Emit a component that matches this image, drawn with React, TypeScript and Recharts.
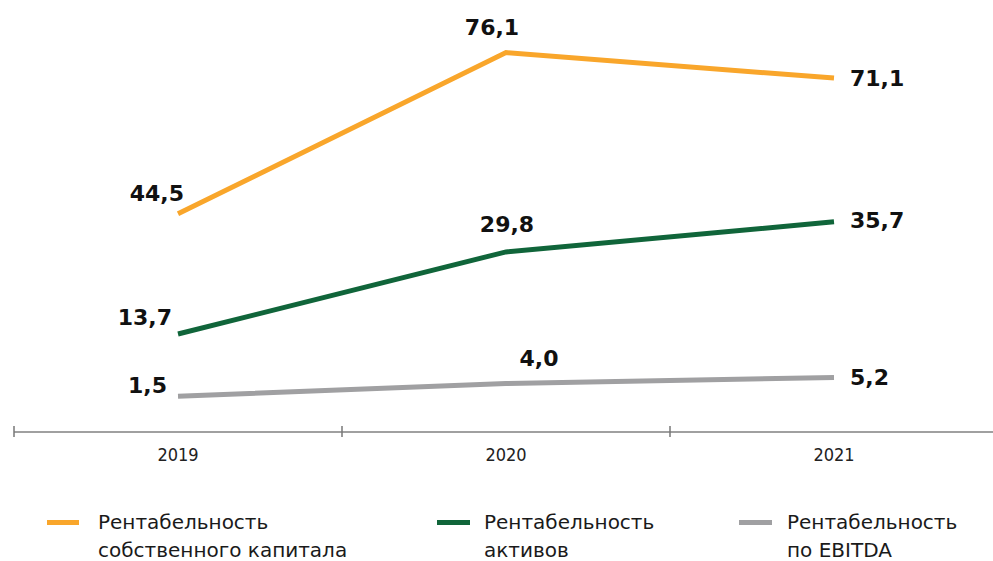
import { LineChart, Line, XAxis, YAxis, LabelList } from 'recharts'

const years = ['2019', '2020', '2021']
const roe = [44.5, 76.1, 71.1]
const roa = [13.7, 29.8, 35.7]
const ebitda = [1.5, 4.0, 5.2]

const CHART_W = 1000
const CHART_H = 561
const MARGIN = { top: 20, right: 2, left: 14, bottom: 99 }
const BAND = (CHART_W - MARGIN.left - MARGIN.right) / years.length

// label offsets per series: [first point, middle point, last point]
const series = [
  {
    key: 'roe',
    name: ['Рентабельность', 'собственного капитала'],
    color: '#F9A62B',
    axis: 'right',
    labels: [
      { dx: 6, dy: -20, anchor: 'end' },
      { dx: -14, dy: -25, anchor: 'middle' },
      { dx: 16, dy: 0, anchor: 'start' },
    ],
    legend: { icon: 47, iconW: 32, text: 98 },
  },
  {
    key: 'roa',
    name: ['Рентабельность', 'активов'],
    color: '#10653A',
    axis: 'left',
    labels: [
      { dx: -6, dy: -17, anchor: 'end' },
      { dx: 1, dy: -27, anchor: 'middle' },
      { dx: 16, dy: -1, anchor: 'start' },
    ],
    legend: { icon: 437, iconW: 33, text: 484 },
  },
  {
    key: 'ebitda',
    name: ['Рентабельность', 'по EBITDA'],
    color: '#A0A0A2',
    axis: 'left',
    labels: [
      { dx: -11, dy: -11, anchor: 'end' },
      { dx: 33, dy: -25, anchor: 'middle' },
      { dx: 16, dy: 0, anchor: 'start' },
    ],
    legend: { icon: 739, iconW: 33, text: 787 },
  },
]

const data = years.map((year, i) => ({
  year,
  roe: roe[i],
  roa: roa[i],
  ebitda: ebitda[i],
}))

const fmt = (v: number) => v.toFixed(1).replace('.', ',')

function makeLabel(offsets: { dx: number; dy: number; anchor: string }[]) {
  return (props: any) => {
    const { x, y, value, index } = props
    const o = offsets[index]
    return (
      <text
        x={x + o.dx}
        y={y + o.dy}
        textAnchor={o.anchor as any}
        dominantBaseline="central"
        fontFamily="DejaVu Sans"
        fontWeight="bold"
        fontSize={22}
        fill="#111"
      >
        {fmt(value)}
      </text>
    )
  }
}

function YearTick(props: any) {
  const { x, y, payload } = props
  return (
    <g>
      <line x1={x - BAND / 2} x2={x - BAND / 2} y1={y - 6} y2={y + 5} stroke="#777" strokeWidth={1.5} />
      <text
        x={x}
        y={y + 29}
        textAnchor="middle"
        fontFamily="Liberation Sans Narrow, DejaVu Sans Condensed"
        fontSize={18}
        fill="#222"
      >
        {payload.value}
      </text>
    </g>
  )
}

export default function App() {
  return (
    <div style={{ position: 'absolute', left: 0, top: 0, width: 993, height: 561, overflow: 'hidden', background: '#fff' }}>
      <LineChart width={CHART_W} height={CHART_H} data={data} margin={MARGIN}>
        <XAxis
          dataKey="year"
          axisLine={{ stroke: '#808080', strokeWidth: 1.5 }}
          tickLine={false}
          tickSize={0}
          tickMargin={0}
          tick={<YearTick />}
          interval={0}
          padding={{ left: BAND / 2, right: BAND / 2 }}
        />
        <YAxis yAxisId="left" hide domain={[-5.51, 75.27]} />
        <YAxis yAxisId="right" hide domain={[1.71, 82.49]} />
        {series.map(s => (
          <Line
            key={s.key}
            yAxisId={s.axis}
            dataKey={s.key}
            stroke={s.color}
            strokeWidth={5}
            dot={false}
            activeDot={false}
            isAnimationActive={false}
          >
            <LabelList dataKey={s.key} content={makeLabel(s.labels)} />
          </Line>
        ))}
      </LineChart>
      {series.map(s => (
        <div key={s.key}>
          <div
            style={{
              position: 'absolute',
              left: s.legend.icon,
              top: 520,
              width: s.legend.iconW,
              height: 5,
              background: s.color,
            }}
          />
          <div
            style={{
              position: 'absolute',
              left: s.legend.text,
              top: 509,
              fontFamily: 'DejaVu Sans',
              fontSize: 20,
              lineHeight: '27.5px',
              color: '#1a1a1a',
              whiteSpace: 'nowrap',
            }}
          >
            {s.name[0]}
            <br />
            {s.name[1]}
          </div>
        </div>
      ))}
    </div>
  )
}
